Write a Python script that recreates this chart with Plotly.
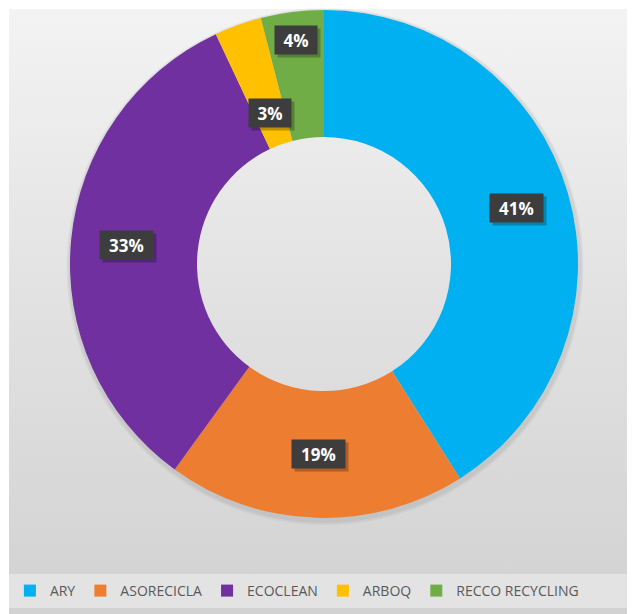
import math
import plotly.graph_objects as go

# ---- data ----
categories = ["ARY", "ASORECICLA", "ECOCLEAN", "ARBOQ", "RECCO RECYCLING"]
shares = [41, 19, 33, 3, 4]
colors = ["#00B0F0", "#ED7D31", "#7030A0", "#FFC000", "#70AD47"]

# ---- layout constants (pixels, figure coordinates; page adds an 8px body margin) ----
W, H = 627, 606
CX, CY, R = 316, 256, 254
HOLE = 0.5
label_radius = [0.79, 0.75, 0.78, 0.63, 0.89]  # fraction of outer radius

fig = go.Figure()

# gradient background panel
fig.add_trace(go.Scatter(
    x=[1, W, W, 1, 1], y=[1, 1, H, H, 1],
    mode="lines", line=dict(width=0), fill="toself",
    fillgradient=dict(type="vertical",
                      colorscale=[[0, "#d2d2d2"], [0.5, "#e1e1e1"], [1, "#f3f3f3"]]),
    hoverinfo="skip", showlegend=False,
))

# soft shadow under the ring
for grow, alpha in [(5, 0.04), (3, 0.05)]:
    r2 = R + grow
    fig.add_trace(go.Pie(
        values=[1], labels=["shadow"], hole=0.9, sort=False,
        marker=dict(colors=[f"rgba(0,0,0,{alpha})"], line=dict(width=0)),
        textinfo="none", hoverinfo="skip", showlegend=False,
        domain=dict(x=[(CX - r2 + 1) / W, (CX + r2 + 1) / W],
                    y=[max(0, 1 - (CY + r2 + 2) / H), min(1, 1 - (CY - r2 + 2) / H)]),
    ))

fig.add_trace(go.Pie(
    labels=categories, values=shares, sort=False, direction="clockwise",
    rotation=0, hole=HOLE, marker=dict(colors=colors, line=dict(width=0)),
    textinfo="none", hoverinfo="label+percent",
    domain=dict(x=[(CX - R) / W, (CX + R) / W], y=[1 - (CY + R) / H, 1 - (CY - R) / H]),
))

# data labels (dark boxes) positioned from the data
total = sum(shares)
cum = 0
annotations = []
for v, rf in zip(shares, label_radius):
    mid = (cum + v / 2) / total * 2 * math.pi
    cum += v
    px = CX + rf * R * math.sin(mid)
    py = CY - rf * R * math.cos(mid)
    txt = f"{round(v / total * 100)}%"
    bw = 12 + 11 * len(txt)
    common = dict(x=px, y=py, xref="x", yref="y", showarrow=False,
                  borderpad=4, width=bw, height=20)
    annotations.append(dict(common, text="&nbsp;", xshift=3, yshift=-3,
                            bgcolor="rgba(0,0,0,0.25)",
                            font=dict(family="Open Sans", size=16, color="rgba(0,0,0,0)")))
    annotations.append(dict(common, text=f"<b>{txt}</b>", bgcolor="#3d3d3d",
                            font=dict(family="Open Sans", size=17, color="white")))

fig.update_layout(
    width=W, height=H,
    margin=dict(l=0, r=0, t=0, b=0),
    paper_bgcolor="white", plot_bgcolor="rgba(0,0,0,0)",
    xaxis=dict(range=[0, W], visible=False, fixedrange=True),
    yaxis=dict(range=[H, 0], visible=False, fixedrange=True),
    shapes=[dict(type="rect", xref="x", yref="y", x0=1, x1=W, y0=566, y1=600,
                 fillcolor="#e3e3e3", line=dict(width=0), layer="above")],
    annotations=annotations,
    legend=dict(orientation="h", x=0.003, xanchor="left", y=1 - 583 / H, yanchor="middle",
                bgcolor="rgba(0,0,0,0)", font=dict(family="Open Sans", size=14, color="#595959"),
                itemclick=False, itemdoubleclick=False),
    showlegend=True,
)

fig.write_html("out.html")
